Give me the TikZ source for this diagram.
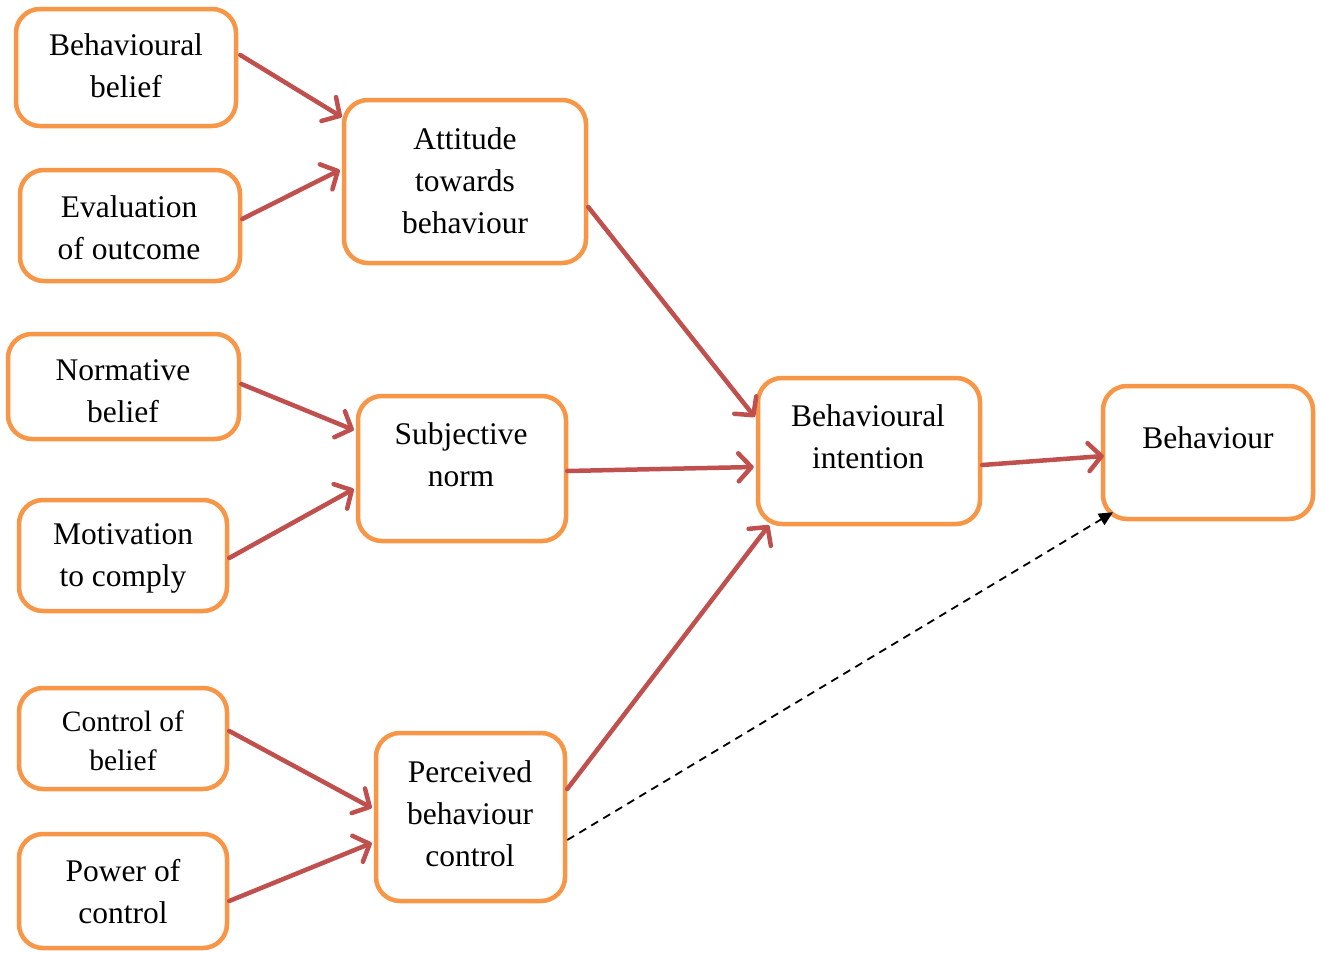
\documentclass[tikz,border=0pt]{standalone}
\usepackage{fontspec}
\setmainfont{Liberation Serif}
\usetikzlibrary{arrows.meta,calc}
\definecolor{boxorange}{HTML}{F79646}
\definecolor{arrred}{HTML}{C0504D}
\begin{document}
\begin{tikzpicture}[x=1pt,y=-1pt,
  box/.style={draw=boxorange,line width=4.5pt,rounded corners=24pt,fill=white,inner sep=0pt},
  txt/.style={align=center,inner sep=0pt,font=\fontsize{31.5}{42}\selectfont},
  txtsmall/.style={align=center,inner sep=0pt,font=\fontsize{29.5}{39}\selectfont},
  rarrow/.style={draw=arrred,line width=4.5pt,line cap=round,-{Straight Barb[length=13pt,width=28pt,round]}},
  darrow/.style={draw=black,line width=1.8pt,dash pattern=on 8pt off 6pt,-{Triangle[length=14pt,width=13pt]}}]
\useasboundingbox (0,0) rectangle (1326,953);
% boxes
\node[box,minimum width=220pt,minimum height=117pt] (b1) at (126,67.5) {};
\node[box,minimum width=220pt,minimum height=111pt] (b2) at (130,225.5) {};
\node[box,minimum width=242pt,minimum height=163pt] (b3) at (465,181.5) {};
\node[box,minimum width=231pt,minimum height=105pt] (b4) at (123.5,386.5) {};
\node[box,minimum width=208pt,minimum height=111pt] (b5) at (123,555.5) {};
\node[box,minimum width=208pt,minimum height=145pt] (b6) at (462,468.5) {};
\node[box,minimum width=208pt,minimum height=101pt] (b7) at (123,738.5) {};
\node[box,minimum width=208pt,minimum height=114pt] (b8) at (123,891) {};
\node[box,minimum width=189pt,minimum height=168pt] (b9) at (470.5,817) {};
\node[box,minimum width=222pt,minimum height=146pt] (b10) at (869,451) {};
\node[box,minimum width=210pt,minimum height=133pt] (b11) at (1208,452.5) {};
% texts
\node[txt] (t1) at (126,66) {Behavioural\\belief};
\node[txt] (t2) at (129,228) {Evaluation\\of outcome};
\node[txt] (t3) at (465,181) {Attitude\\towards\\behaviour};
\node[txt] (t4) at (123,391) {Normative\\belief};
\node[txt] (t5) at (123,558) {Motivation\\to comply};
\node[txt] (t6) at (461,455) {Subjective\\norm};
\node[txtsmall] (t7) at (123,741) {Control of\\belief};
\node[txt] (t8) at (123,892) {Power of\\control};
\node[txt] (t9) at (470,814) {Perceived\\behaviour\\control};
\node[txt] (t10) at (868,437) {Behavioural\\intention};
\node[txt] (t11) at (1208,438) {Behaviour};
% arrows
\draw[rarrow] ($(b1.east)+(2,-12.5)$) -- ($(b3.west)+(0,-64.5)$);
\draw[rarrow] ($(b2.east)+(0,-6.5)$) -- ($(b3.west)+(-2,-11.5)$);
\draw[rarrow] ($(b3.east)+(0,25.5)$) -- ($(b10.west)+(-1,-34)$);
\draw[rarrow] ($(b4.east)+(0,-2.5)$) -- ($(b6.west)+(-2,-38.5)$);
\draw[rarrow] ($(b5.east)+(0,2.5)$) -- ($(b6.west)+(-2,20.5)$);
\draw[rarrow] ($(b6.east)+(-1,2.5)$) -- ($(b10.west)+(-2,16)$);
\draw[rarrow] ($(b9.east)+(0,-28)$) -- ($(b10.south)+(-100,-1)$);
\draw[rarrow] ($(b7.east)+(0,-7.5)$) -- ($(b9.west)+(-2,-9)$);
\draw[rarrow] ($(b8.east)+(0,10)$) -- ($(b9.west)+(-2,26)$);
\draw[rarrow] ($(b10.east)+(0,14)$) -- ($(b11.west)+(3,3.5)$);
\draw[darrow] ($(b9.east)+(0,23)$) -- ($(b11.south)+(-95,-9)$);
\end{tikzpicture}
\end{document}
